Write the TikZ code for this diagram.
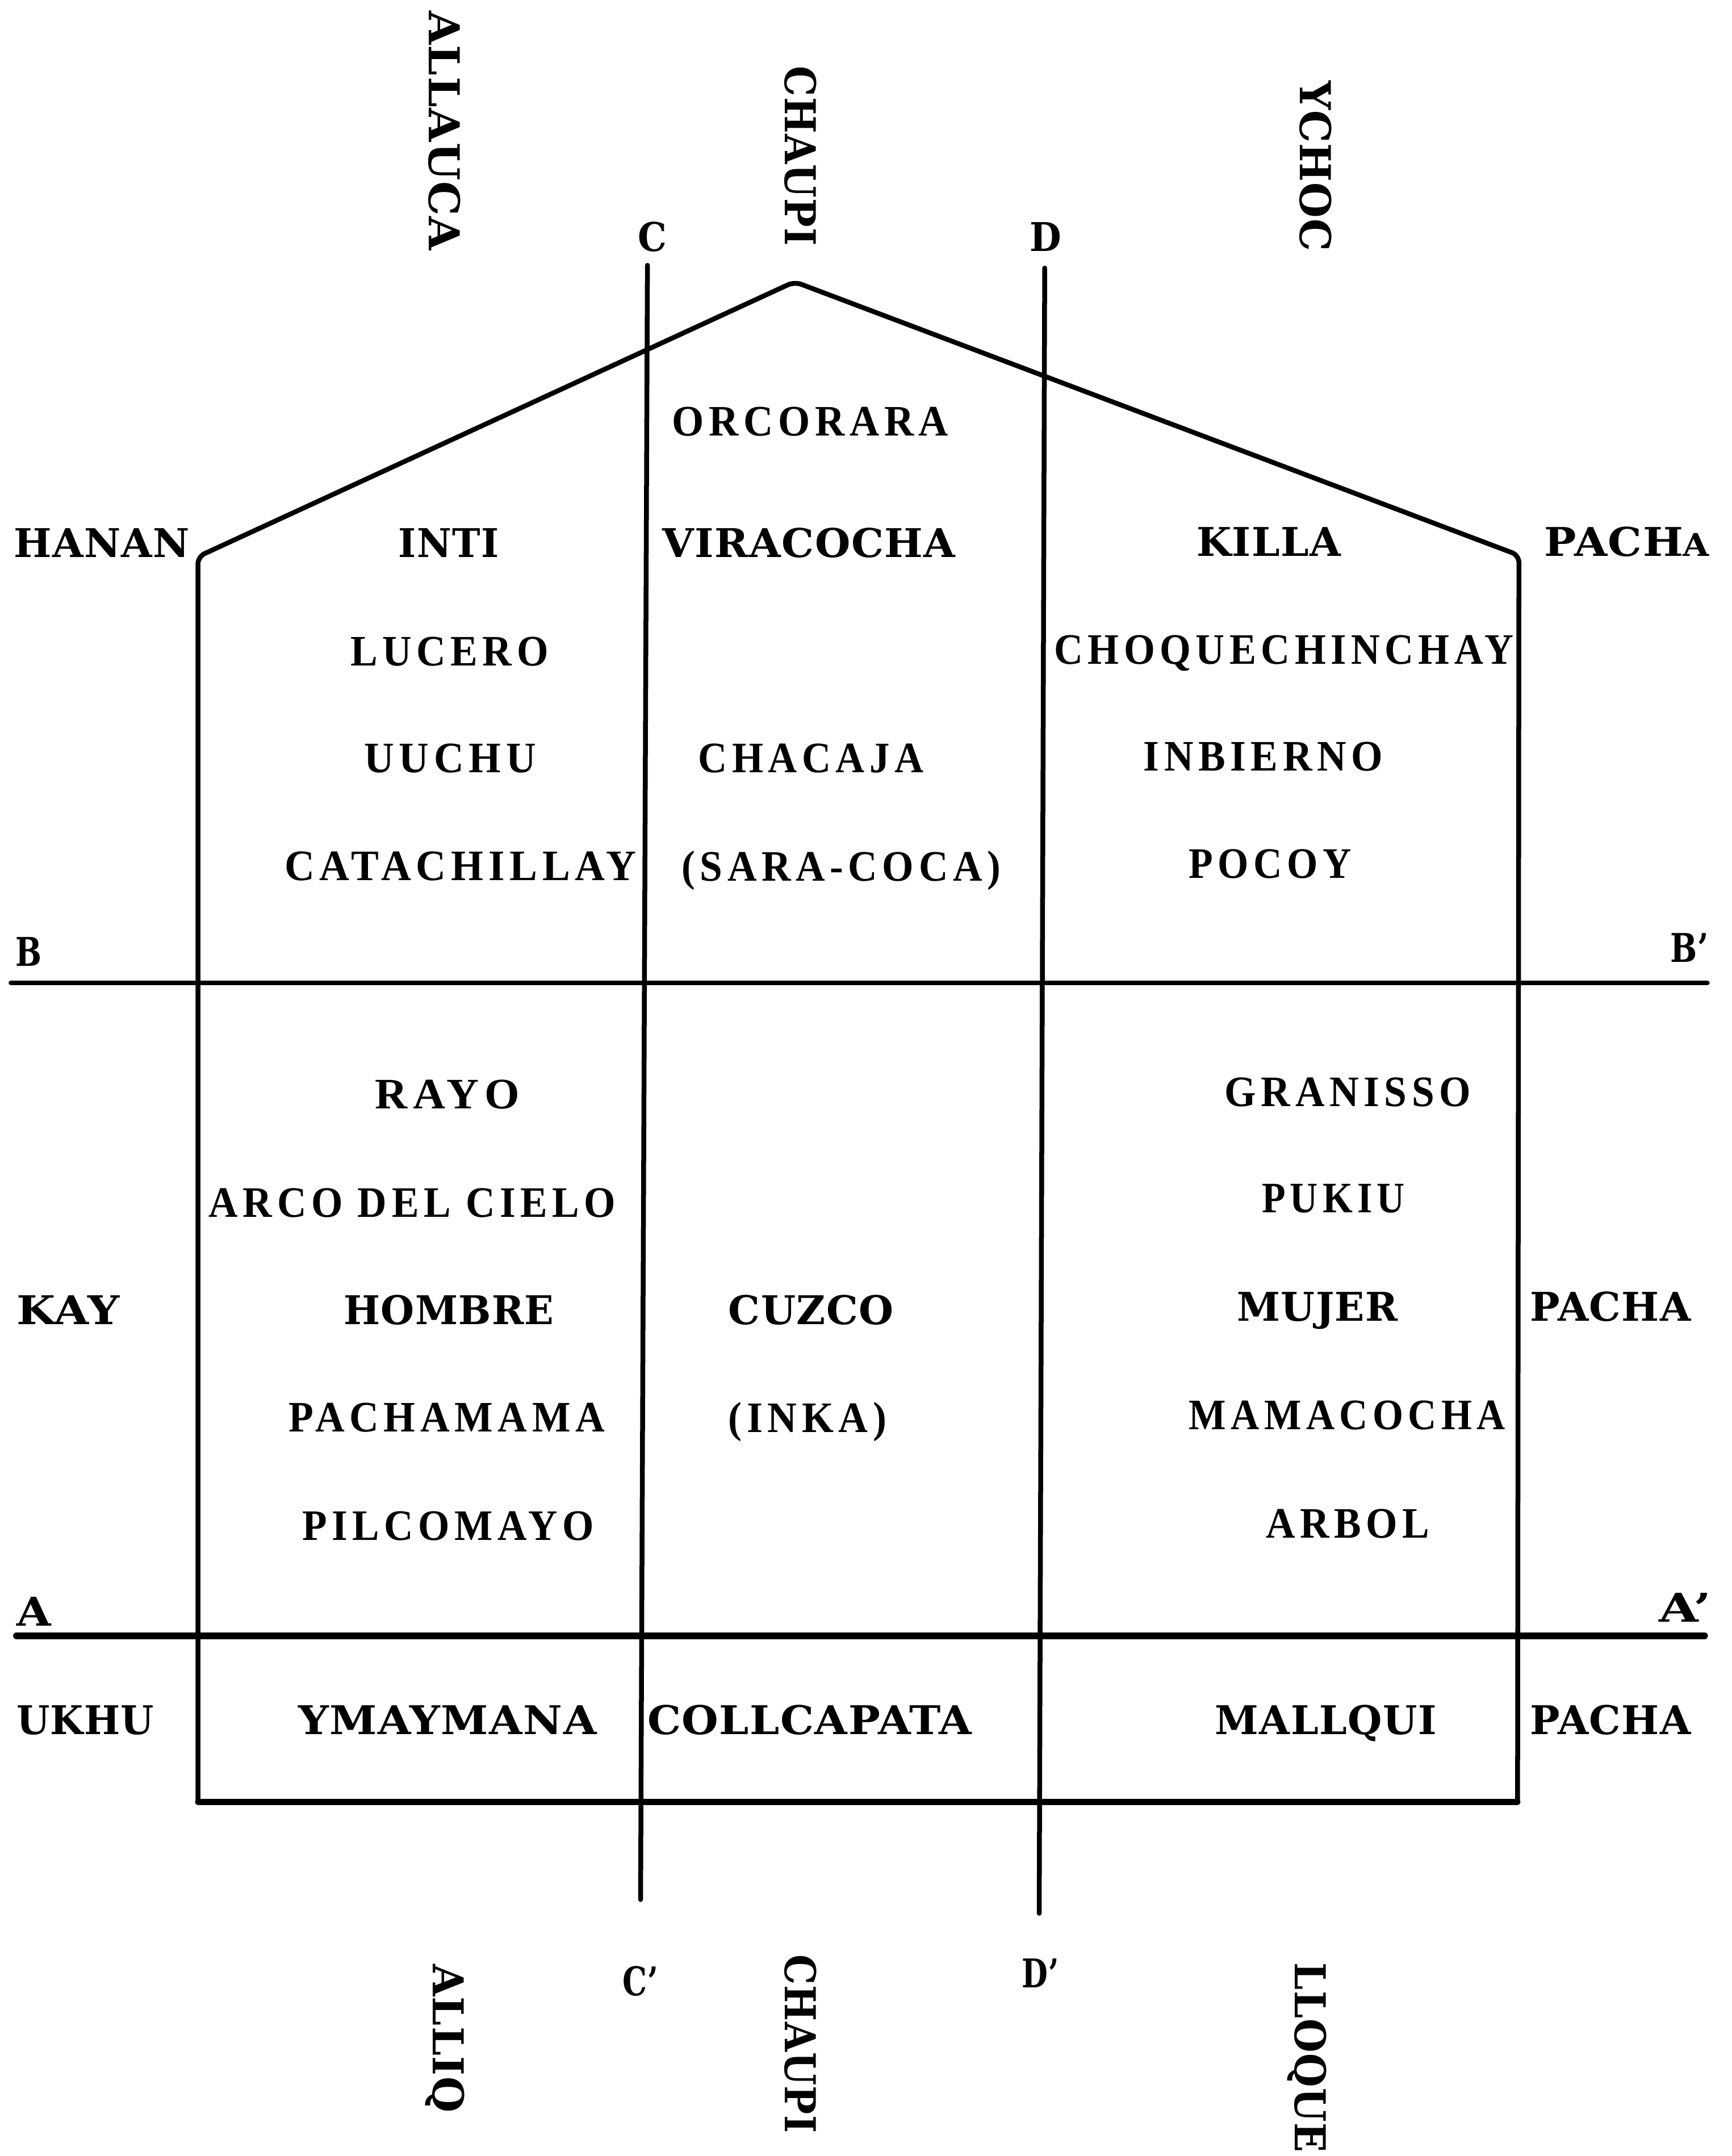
\documentclass[tikz,border=0pt]{standalone}
\usepackage{fontspec}
\usepackage{graphicx}
\newfontfamily\heavyfont[LetterSpace=2]{DejaVu Serif}
\newfontfamily\medfont[LetterSpace=12]{Liberation Serif}
\newdimen\pxu \pxu=0.02cm
\newcommand{\fw}[2]{\resizebox{#1\pxu}{\height}{#2}}
\begin{document}
\begin{tikzpicture}[x=0.02cm,y=-0.02cm,
  hv/.style={font=\heavyfont\bfseries\fontsize{16.4}{18}\selectfont, inner sep=0pt, outer sep=0pt, anchor=base},
  md/.style={font=\medfont\bfseries\fontsize{18}{20}\selectfont, inner sep=0pt, outer sep=0pt, anchor=base},
  vt/.style={font=\heavyfont\bfseries\fontsize{17.6}{19}\selectfont, inner sep=0pt, outer sep=0pt, anchor=base, rotate=-90},
  ln/.style={line width=2pt, line cap=round, line join=round},
  thickln/.style={line width=2.8pt, line cap=round}]
\useasboundingbox (0,0) rectangle (1260,1568.6);
% ---- frame coordinates
\coordinate (lt) at (144,405);
\coordinate (apex) at (578,205);
\coordinate (rt) at (1105,404);
\coordinate (lb) at (144,1311);
\coordinate (rb) at (1104,1311);
\coordinate (ct) at (471,193);
\coordinate (cb) at (466,1382);
\coordinate (dt) at (760,195);
\coordinate (db) at (756,1392);
\coordinate (bl) at (8,715);
\coordinate (br) at (1242,715);
\coordinate (al) at (12,1190);
\coordinate (ar) at (1240,1190);
% ---- lines
\draw[ln, rounded corners=3pt] (lb) -- (lt) -- (apex) -- (rt) -- (rb);
\draw[ln, line width=2.4pt] (lb) -- (rb);
\draw[ln] (ct) -- (cb);
\draw[ln] (dt) -- (db);
\draw[ln] (bl) -- (br);
\draw[thickln] (al) -- (ar);
% ---- line labels
\node[hv] (lC) at (474.5,183) {\fw{21}{C}};
\node[hv] (lD) at (760.5,183) {\fw{23}{D}};
\node[hv] (lCp) at (466,1452) {\fw{26}{C’}};
\node[hv] (lDp) at (757,1446) {\fw{27}{D’}};
\node[hv] (lB) at (21,703) {\fw{19}{B}};
\node[hv] (lBp) at (1229,700) {\fw{28}{B’}};
\node[hv] (lA) at (24.5,1183) {\fw{25}{A}};
\node[hv] (lAp) at (1226,1180) {\fw{38}{A’}};
% ---- vertical labels
\node[vt] (allauca) at (312,95) {\fw{174}{ALLAUCA}};
\node[vt] (chaupit) at (571,113.5) {\fw{131}{CHAUPI}};
\node[vt] (ychoc) at (946,121) {\fw{124}{YCHOC}};
\node[vt] (alliq) at (315,1483) {\fw{108}{ALLIQ}};
\node[vt] (chaupib) at (571,1487) {\fw{130}{CHAUPI}};
\node[vt] (lloque) at (942,1497) {\fw{138}{LLOQUE}};
% ---- side labels
\node[hv] (hanan) at (74,405.5) {\fw{128}{HANAN}};
\node[hv] (kay) at (49.5,963.5) {\fw{75}{KAY}};
\node[hv] (ukhu) at (62,1262) {\fw{100}{UKHU}};
\node[hv] (pacha1) at (1183.5,404.5) {\fw{120}{PACH{\fontsize{13}{13}\selectfont A}}};
\node[hv] (pacha2) at (1171.5,961) {\fw{117}{PACHA}};
\node[hv] (pacha3) at (1171.5,1262) {\fw{117}{PACHA}};
% ---- hanan pacha
\node[md] (orcorara) at (589.5,317) {\fw{201}{ORCORARA}};
\node[hv] (inti) at (326.5,405.5) {\fw{73}{INTI}};
\node[hv] (viracocha) at (588.5,405.5) {\fw{213}{VIRACOCHA}};
\node[hv] (killa) at (923,404.5) {\fw{105}{KILLA}};
\node[md] (lucero) at (327,484.5) {\fw{144}{LUCERO}};
\node[md] (choque) at (934,483) {\fw{334}{CHOQUECHINCHAY}};
\node[md] (uuchu) at (327.5,562) {\fw{125}{UUCHU}};
\node[md] (chacaja) at (590,562) {\fw{164}{CHACAJA}};
\node[md] (inbierno) at (919,561) {\fw{174}{INBIERNO}};
\node[md] (catachillay) at (335,640.5) {\fw{256}{CATACHILLAY}};
\node[md] (saracoca) at (612,641) {\fw{232}{(SARA-COCA)}};
\node[md] (pocoy) at (924,639) {\fw{118}{POCOY}};
% ---- kay pacha
\node[md] (rayo) at (325.5,806.5) {\fw{105}{RAYO}};
\node[md] (granisso) at (980.5,805) {\fw{179}{GRANISSO}};
\node[md] (arco) at (300,885.5) {\fw{296}{ARCO DEL CIELO}};
\node[md] (pukiu) at (970,882) {\fw{104}{PUKIU}};
\node[hv] (hombre) at (326.5,963.5) {\fw{153}{HOMBRE}};
\node[hv] (cuzco) at (590,963.5) {\fw{120}{CUZCO}};
\node[hv] (mujer) at (958.5,961) {\fw{117}{MUJER}};
\node[md] (pachamama) at (325,1041.5) {\fw{230}{PACHAMAMA}};
\node[md] (inka) at (587.5,1042) {\fw{115}{(INKA)}};
\node[md] (mamacocha) at (980,1040) {\fw{230}{MAMACOCHA}};
\node[md] (pilcomayo) at (326,1120.5) {\fw{212}{PILCOMAYO}};
\node[md] (arbol) at (980.5,1119) {\fw{119}{ARBOL}};
% ---- ukhu pacha
\node[hv] (ymaymana) at (325.5,1262) {\fw{217}{YMAYMANA}};
\node[hv] (collcapata) at (589,1262) {\fw{236}{COLLCAPATA}};
\node[hv] (mallqui) at (964.5,1262) {\fw{161}{MALLQUI}};
\end{tikzpicture}
\end{document}
